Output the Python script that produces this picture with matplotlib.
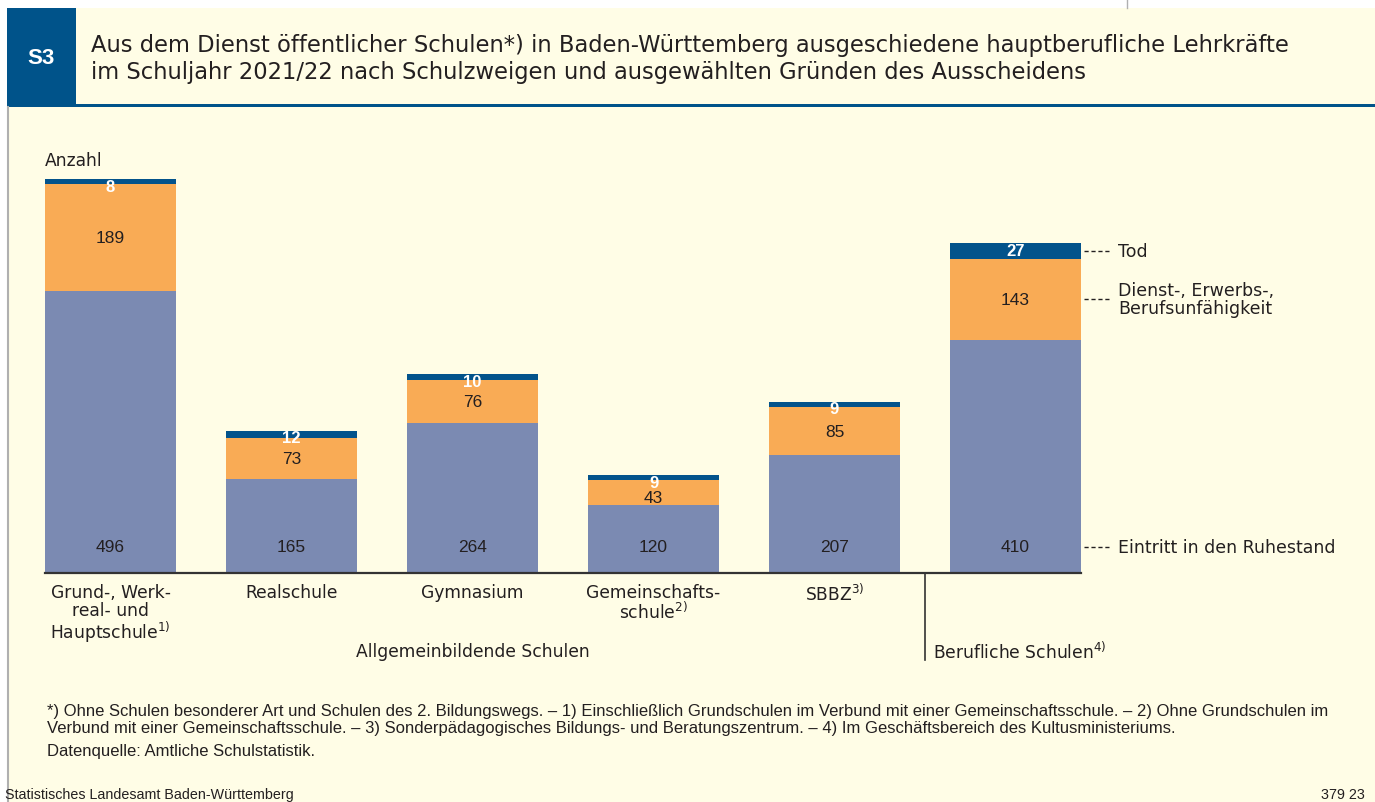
import matplotlib.pyplot as plt
from matplotlib.patches import Rectangle
from matplotlib.lines import Line2D
import numpy as np

plt.rcParams['font.family'] = ['DejaVu Sans']
plt.rcParams['mathtext.fontset'] = 'custom'
plt.rcParams['mathtext.rm'] = 'DejaVu Sans'

# Daten
schularten = ['Grund-, Werk-\nreal- und\nHauptschule$^{\\mathregular{1)}}$', 'Realschule', 'Gymnasium',
              'Gemeinschafts-\nschule$^{\\mathregular{2)}}$', 'SBBZ$^{\\mathregular{3)}}$', '']
ruhestand = [496, 165, 264, 120, 207, 410]
unfaehig = [189, 73, 76, 43, 85, 143]
tod = [8, 12, 10, 9, 9, 27]
legende = ['Tod', 'Dienst-, Erwerbs-,\nBerufsunfähigkeit', 'Eintritt in den Ruhestand']

c_ruh = '#7b8ab2'
c_unf = '#f9ab55'
c_tod = '#03538b'
c_head = '#00538a'
cream = '#fffde6'
txt = '#231f20'
num_font = ['Liberation Sans', 'DejaVu Sans']
fn_font = ['Liberation Sans', 'DejaVu Sans']

W, H = 1375, 803
def fx(px):
    return px / W
def fy(py):
    return 1 - py / H

fig = plt.figure(figsize=(W / 100, H / 100), dpi=100)
fig.patch.set_facecolor('white')

def rect(x0, y0, x1, y1, color, z=0):
    fig.add_artist(Rectangle((fx(x0), fy(y1)), (x1 - x0) / W, (y1 - y0) / H,
                             transform=fig.transFigure, color=color, zorder=z, lw=0))

# Hintergrund / Kopf
rect(7, 9, W, H, cream)
rect(7, 9, 76, 108, c_head, 1)
rect(7, 105, W, 108, c_head, 1)
fig.add_artist(Line2D([fx(8), fx(8)], [fy(108), 0], transform=fig.transFigure, color='#b0b0b0', lw=1.5, zorder=1))
fig.add_artist(Line2D([fx(1127), fx(1127)], [fy(0), fy(9)], transform=fig.transFigure, color='#b0b0b0', lw=1, zorder=1))

fig.text(fx(41), fy(59), 'S3', color='white', fontsize=16, fontweight='bold', ha='center', va='center',
         family=num_font, zorder=3)
fig.text(fx(91), fy(59), 'Aus dem Dienst öffentlicher Schulen*) in Baden-Württemberg ausgeschiedene hauptberufliche Lehrkräfte\n'
         'im Schuljahr 2021/22 nach Schulzweigen und ausgewählten Gründen des Ausscheidens',
         color=txt, fontsize=16.3, ha='left', va='center', linespacing=1.2, zorder=3)

# Diagramm
base_px, top_px = 574, 150
ax = fig.add_axes([0, fy(base_px), 1, (base_px - top_px) / H])
ax.set_zorder(2)
ax.patch.set_visible(False)
ax.axis('off')
x0_px, step_px = 110.5, 181
ax.set_xlim((0 - x0_px) / step_px, (W - x0_px) / step_px)
ymax = 746
ax.set_ylim(0, ymax)
px = (base_px - top_px) / ymax  # pixel pro einheit

x = np.arange(len(ruhestand))
ruh = np.array(ruhestand)
unf = np.array(unfaehig)
td = np.array(tod)
bw = 131 / step_px
ax.bar(x, ruh, width=bw, color=c_ruh)
ax.bar(x, unf, bottom=ruh, width=bw, color=c_unf)
ax.bar(x, td, bottom=ruh + unf, width=bw, color=c_tod)
ax.plot([-bw / 2, x[-1] + bw / 2], [0, 0], color='#333333', lw=1.6, clip_on=False)

for i in x:
    ax.text(i, 26 / px, str(ruh[i]), ha='center', va='center', fontsize=12.5, color=txt, family=num_font)
    y_unf = min(ruh[i] + unf[i] / 2, ruh[i] + unf[i] - 17 / px)
    ax.text(i, y_unf, str(unf[i]), ha='center', va='center', fontsize=12.5, color=txt, family=num_font)
    ax.text(i, ruh[i] + unf[i] + td[i] - 7 / px, str(td[i]), ha='center', va='center', fontsize=12,
            color='white', fontweight='bold', family=num_font)
    ax.text(i, -10 / px, schularten[i], ha='center', va='top', fontsize=12.3, color=txt, linespacing=1.0)

# Trennlinie und Gruppen
sep = (925 - x0_px) / step_px
ax.plot([sep, sep], [0, -87 / px], color='#333333', lw=1.2, clip_on=False)
ax.text(2, -78 / px, 'Allgemeinbildende Schulen', ha='center', va='center', fontsize=12.3, color=txt)
ax.text(sep + 8 / step_px, -78 / px, 'Berufliche Schulen$^{\\mathregular{4)}}$', ha='left', va='center',
        fontsize=12.3, color=txt)

ax.text((45 - x0_px) / step_px, (base_px - 161) / px, 'Anzahl', ha='left', va='center', fontsize=12.3, color=txt)

# Legende
last = x[-1]
ly = [ruh[last] + unf[last] + td[last] / 2, ruh[last] + unf[last] / 2, 26 / px]
for lab, yy in zip(legende, ly):
    ax.plot([(1084 - x0_px) / step_px, (1111 - x0_px) / step_px], [yy, yy], color=txt, lw=1,
            ls=(0, (3, 2)), clip_on=False)
    ax.text((1118 - x0_px) / step_px, yy, lab, ha='left', va='center', fontsize=12.5, color=txt,
            linespacing=1.0)

# Fussnoten
fn = 12
fig.text(fx(47), fy(712), '*) Ohne Schulen besonderer Art und Schulen des 2. Bildungswegs. – 1) Einschließlich Grundschulen im Verbund mit einer Gemeinschaftsschule. – 2) Ohne Grundschulen im',
         fontsize=fn, color=txt, va='center', family=fn_font, zorder=3)
fig.text(fx(47), fy(729), 'Verbund mit einer Gemeinschaftsschule. – 3) Sonderpädagogisches Bildungs- und Beratungszentrum. – 4) Im Geschäftsbereich des Kultusministeriums.',
         fontsize=fn, color=txt, va='center', family=fn_font, zorder=3)
fig.text(fx(47), fy(752), 'Datenquelle: Amtliche Schulstatistik.', fontsize=fn, color=txt, va='center',
         family=fn_font, zorder=3)
fig.text(fx(5), fy(795), 'Statistisches Landesamt Baden-Württemberg', fontsize=10.3, color=txt, va='center',
         family=fn_font, zorder=3)
fig.text(fx(1365), fy(795), '379 23', fontsize=10.3, color=txt, va='center', ha='right', family=fn_font, zorder=3)

fig.savefig('out.png', dpi=100, facecolor=fig.get_facecolor())
